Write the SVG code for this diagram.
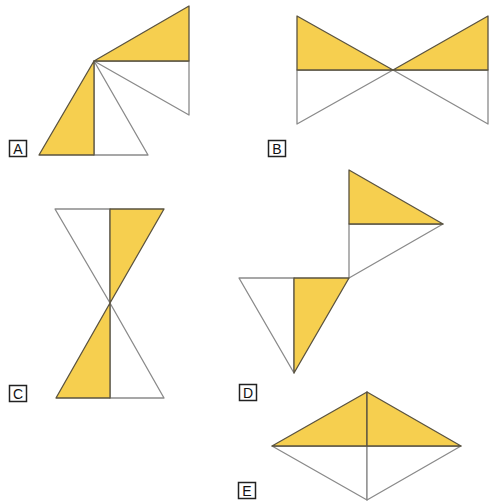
<svg xmlns="http://www.w3.org/2000/svg" width="489" height="502" viewBox="0 0 489 502">
<style>
.w{fill:#ffffff;stroke:#8a8a8a;stroke-width:1.3;stroke-linejoin:round}
.y{fill:#f6cf4f;stroke:#5a5340;stroke-width:1.3;stroke-linejoin:round}
.lb{fill:#ffffff;stroke:#222;stroke-width:1.5}
.lt{font-family:"Liberation Sans",Arial,sans-serif;font-size:14px;fill:#111;text-anchor:middle}
</style>
<rect width="489" height="502" fill="#ffffff"/>
<g id="A">
<polygon class="w" points="94,61 189,61 189,115"/>
<polygon class="w" points="94,61 94,155 148,155"/>
<polygon class="y" points="94,61 189,6 189,61"/>
<polygon class="y" points="94,61 39,155 94,155"/>
<rect class="lb" x="9.5" y="140.5" width="17" height="16"/>
<text class="lt" x="18" y="153.5">A</text>
</g>
<g id="B">
<polygon class="w" points="297,70 297,124 393,70"/>
<polygon class="w" points="393,70 488,70 488,124"/>
<polygon class="y" points="297,16 297,70 393,70"/>
<polygon class="y" points="393,70 488,16 488,70"/>
<rect class="lb" x="268.5" y="140.5" width="17" height="16"/>
<text class="lt" x="277" y="153.5">B</text>
</g>
<g id="C">
<polygon class="w" points="55,209 110,209 110,303"/>
<polygon class="w" points="110,303 110,398 164,398"/>
<polygon class="y" points="110,209 164,209 110,303"/>
<polygon class="y" points="110,303 56,398 110,398"/>
<rect class="lb" x="9.5" y="385.5" width="17" height="16"/>
<text class="lt" x="18" y="398.5">C</text>
</g>
<g id="D">
<polygon class="w" points="349,224 443,224 349,278"/>
<polygon class="w" points="239,278 294,278 294,373"/>
<polygon class="y" points="349,170 349,224 443,224"/>
<polygon class="y" points="294,278 349,278 294,373"/>
<rect class="lb" x="239.5" y="384.5" width="17" height="16"/>
<text class="lt" x="248" y="397.5">D</text>
</g>
<g id="E">
<polygon class="w" points="272,446 367,446 367,500"/>
<polygon class="w" points="367,446 461,446 367,500"/>
<polygon class="y" points="367,392 272,446 367,446"/>
<polygon class="y" points="367,392 367,446 461,446"/>
<rect class="lb" x="238.5" y="482.5" width="17" height="16"/>
<text class="lt" x="247" y="495.5">E</text>
</g>
<g id="connectors"></g>
</svg>
